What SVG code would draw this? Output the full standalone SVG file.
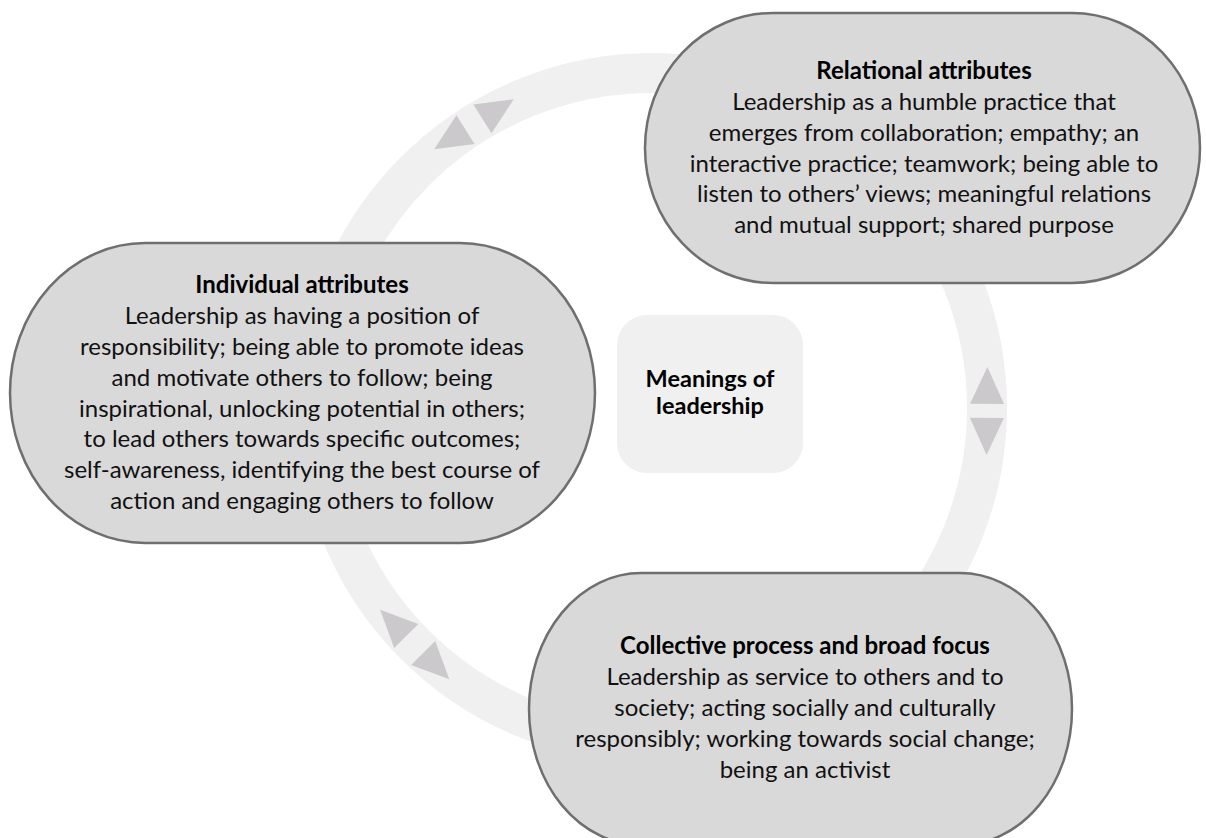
<svg xmlns="http://www.w3.org/2000/svg" width="1206" height="838" viewBox="0 0 1206 838">
  <style>
    .node { fill: #d9d9d9; stroke: #6f6f6f; stroke-width: 2.5; }
    .center { fill: #f0f0f0; }
    .ring { fill: none; stroke: #f0f0f0; stroke-width: 40; }
    .tri { fill: #cbc9cb; }
    text { font-family: Lato, "Liberation Sans", sans-serif; font-size: 24px; fill: #111; text-anchor: middle; }
    .title { font-weight: bold; fill: #000; }
    .ctext { font-weight: bold; font-size: 23.5px; fill: #000; }
  </style>
  <rect width="1206" height="838" fill="#ffffff"/>
  <g id="connectors">
    <circle class="ring" cx="652" cy="408" r="335"/>
    <g transform="rotate(0.5 652 408)">
      <polygon class="tri" points="970,415 1004,415 987,452"/>
      <polygon class="tri" points="970,401 1004,401 987,364"/>
    </g>
    <g transform="rotate(237.9 652 408)">
      <polygon class="tri" points="970,418 1004,418 987,455"/>
      <polygon class="tri" points="970,398 1004,398 987,361"/>
    </g>
    <g transform="rotate(135.1 652 408)">
      <polygon class="tri" points="970,420 1004,420 987,457"/>
      <polygon class="tri" points="970,396 1004,396 987,359"/>
    </g>
  </g>
  <g id="node-center">
    <rect class="center" x="617" y="315" width="186" height="158" rx="30" ry="30"/>
    <text class="ctext" x="710" y="387">Meanings of</text>
    <text class="ctext" x="710" y="414">leadership</text>
  </g>
  <g id="node-relational">
    <rect class="node" x="645" y="13" width="555" height="270" rx="128" ry="135"/>
    <text class="title" x="924" y="79">Relational attributes</text>
    <text x="924" y="110">Leadership as a humble practice that</text>
    <text x="924" y="141">emerges from collaboration; empathy; an</text>
    <text x="924" y="172">interactive practice; teamwork; being able to</text>
    <text x="924" y="202">listen to others’ views; meaningful relations</text>
    <text x="924" y="233">and mutual support; shared purpose</text>
  </g>
  <g id="node-individual">
    <rect class="node" x="10" y="243" width="585" height="300" rx="135" ry="150"/>
    <text class="title" x="302" y="293">Individual attributes</text>
    <text x="302" y="324">Leadership as having a position of</text>
    <text x="302" y="355">responsibility; being able to promote ideas</text>
    <text x="302" y="386">and motivate others to follow; being</text>
    <text x="302" y="417">inspirational, unlocking potential in others;</text>
    <text x="302" y="447">to lead others towards specific outcomes;</text>
    <text x="302" y="478">self-awareness, identifying the best course of</text>
    <text x="302" y="509">action and engaging others to follow</text>
  </g>
  <g id="node-collective">
    <rect class="node" x="529" y="573" width="543" height="272" rx="112" ry="136"/>
    <text class="title" x="805" y="654">Collective process and broad focus</text>
    <text x="805" y="685">Leadership as service to others and to</text>
    <text x="805" y="716">society; acting socially and culturally</text>
    <text x="805" y="747">responsibly; working towards social change;</text>
    <text x="805" y="778">being an activist</text>
  </g>
</svg>
